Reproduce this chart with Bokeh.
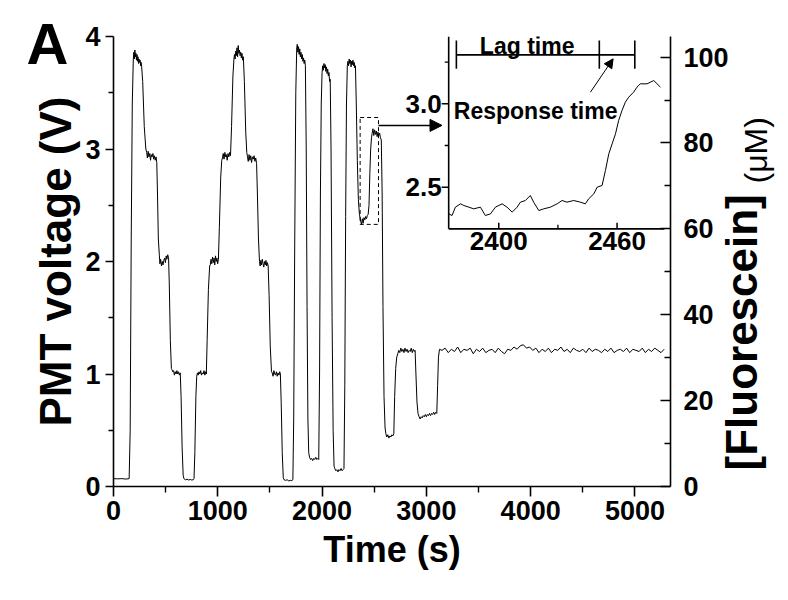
import numpy as np
from bokeh.plotting import figure
from bokeh.models import (Range1d, LinearAxis, FixedTicker, Label, LabelSet,
                          Arrow, NormalHead, ColumnDataSource)
from bokeh.core.properties import value
from bokeh.embed import file_html
from bokeh.resources import INLINE

FONT = "Liberation Sans"

# ---------------- data: main PMT trace (time s, voltage V) ----------------
time_s = [0, 40, 80, 120, 150,
          160, 170, 180, 190,
          195, 200, 205, 210, 215, 220, 225, 230, 235, 240, 245, 250, 255, 260, 265, 270,
          280, 295, 310,
          318, 325, 332, 340, 348, 355, 362, 370, 378, 385, 392, 400, 408, 415,
          422, 430, 440,
          445, 452, 460, 468, 475, 482, 490, 498, 505, 512, 520, 528,
          535, 545, 555,
          560, 568, 576, 584, 592, 600, 608, 616, 624, 632, 640,
          648, 658, 668,
          675, 690, 705, 720, 735, 750, 765, 772,
          780, 790, 798,
          805, 812, 820, 828, 836, 844, 852, 860, 868, 876, 884, 890,
          898, 910, 922,
          928, 935, 942, 950, 957, 964, 971, 978, 985, 992, 999, 1006,
          1015, 1028, 1038,
          1045, 1052, 1060, 1068, 1075, 1082, 1090, 1098, 1106, 1114, 1122,
          1132, 1145, 1155,
          1160, 1166, 1172, 1178, 1184, 1190, 1196, 1202, 1208, 1214, 1220, 1226, 1232, 1238, 1245,
          1255, 1268, 1278,
          1285, 1292, 1300, 1308, 1316, 1324, 1332, 1340, 1348, 1356, 1364, 1372,
          1380, 1390, 1400,
          1406, 1413, 1420, 1427, 1434, 1441, 1448, 1455, 1462, 1469, 1476, 1483,
          1492, 1503, 1515,
          1522, 1530, 1538, 1546, 1554, 1562, 1570, 1578, 1586, 1594, 1600,
          1608, 1618, 1628,
          1635, 1650, 1665, 1680, 1695, 1710, 1720,
          1728, 1738, 1748, 1757,
          1762, 1768, 1774, 1780, 1786, 1792, 1798, 1804, 1810, 1816, 1822, 1828, 1834, 1840,
          1848, 1856, 1864, 1872,
          1880, 1890, 1900, 1910, 1920, 1930, 1940, 1950, 1960, 1968,
          1976, 1984, 1992, 2000,
          2006, 2012, 2018, 2024, 2030, 2036, 2042, 2048, 2054, 2060, 2066, 2072, 2078,
          2086, 2096, 2106, 2115,
          2122, 2132, 2142, 2152, 2162, 2172, 2182, 2192, 2202, 2210,
          2218, 2226, 2234, 2242,
          2248, 2254, 2260, 2266, 2272, 2278, 2284, 2290, 2296, 2302, 2308, 2314, 2320,
          2328, 2338, 2348, 2358,
          2370, 2378, 2386, 2394, 2402, 2410, 2418, 2426, 2434, 2442, 2450,
          2458, 2466, 2474,
          2480, 2488, 2496, 2504, 2512, 2520, 2528, 2536, 2544, 2552, 2560, 2568,
          2576, 2584, 2594, 2604,
          2612, 2620, 2630, 2640, 2650, 2660, 2670, 2680, 2688,
          2696, 2706, 2716, 2726,
          2735, 2745, 2755, 2765, 2775, 2785, 2795, 2805, 2815, 2825, 2835, 2845, 2855, 2865, 2875, 2885, 2892,
          2900, 2910, 2920,
          2930, 2940, 2950, 2960, 2970, 2980, 2990, 3000, 3010, 3020, 3030, 3040, 3050, 3060, 3070, 3080, 3090, 3100,
          3108, 3116, 3126,
          3150, 3180, 3210, 3240, 3270, 3300, 3330, 3360, 3390, 3420,
          3450, 3480, 3510, 3540, 3570, 3600, 3630, 3660, 3690, 3720,
          3750, 3780, 3810, 3840, 3870, 3900, 3930, 3960, 3990, 4020,
          4050, 4080, 4110, 4140, 4170, 4200, 4230, 4260, 4290, 4320,
          4350, 4380, 4410, 4440, 4470, 4500, 4530, 4560, 4590, 4620,
          4650, 4680, 4710, 4740, 4770, 4800, 4830, 4860, 4890, 4920,
          4950, 4980, 5010, 5040, 5070, 5100, 5130, 5160, 5190, 5220,
          5250, 5280]

pmt_v = [0.07, 0.068, 0.07, 0.066, 0.07,
         0.5, 2.2, 3.4, 3.80,
         3.86, 3.80, 3.88, 3.82, 3.85, 3.79, 3.84, 3.78, 3.82, 3.76, 3.80, 3.77, 3.79, 3.74, 3.77, 3.73,
         3.6, 3.2, 3.0,
         2.97, 2.92, 2.98, 2.93, 2.96, 2.90, 2.95, 2.93, 2.96, 2.91, 2.94, 2.90, 2.93, 2.88,
         2.6, 2.2, 2.05,
         1.98, 2.02, 1.96, 2.00, 1.97, 2.01, 2.03, 1.99, 2.05, 2.02, 2.06, 2.03,
         1.8, 1.3, 1.05,
         1.04, 1.02, 1.03, 0.99, 1.02, 1.00, 1.03, 1.00, 1.02, 0.99, 1.01,
         0.8, 0.35, 0.10,
         0.07, 0.06, 0.065, 0.058, 0.062, 0.058, 0.06, 0.07,
         0.3, 0.8, 0.98,
         1.01, 0.99, 1.02, 1.00, 1.03, 0.99, 1.01, 1.00, 1.03, 0.99, 1.02, 1.00,
         1.3, 1.75, 1.96,
         1.97, 2.02, 1.98, 2.04, 1.99, 2.03, 1.97, 2.05, 2.00, 2.03, 1.98, 2.02,
         2.3, 2.75, 2.90,
         2.92, 2.96, 2.91, 2.97, 2.93, 2.95, 2.90, 2.96, 2.93, 2.97, 2.94,
         3.2, 3.65, 3.80,
         3.84, 3.80, 3.87, 3.83, 3.90, 3.82, 3.92, 3.85, 3.88, 3.83, 3.86, 3.81, 3.85, 3.79, 3.82,
         3.6, 3.15, 2.97,
         2.93, 2.89, 2.95, 2.90, 2.94, 2.88, 2.93, 2.91, 2.94, 2.89, 2.92, 2.87,
         2.6, 2.2, 2.0,
         1.96, 2.01, 1.97, 2.02, 1.98, 1.95, 2.00, 1.97, 2.01, 1.96, 1.99, 1.96,
         1.7, 1.25, 1.02,
         1.01, 0.98, 1.03, 1.00, 0.99, 1.02, 0.98, 1.01, 0.99, 1.02, 1.00,
         0.75, 0.3, 0.08,
         0.06, 0.055, 0.06, 0.05, 0.055, 0.052, 0.06,
         0.6, 2.2, 3.5, 3.90,
         3.93, 3.86, 3.91, 3.84, 3.89, 3.82, 3.86, 3.80, 3.84, 3.78, 3.81, 3.76, 3.79, 3.74,
         3.0, 1.6, 0.6, 0.30,
         0.26, 0.24, 0.25, 0.23, 0.25, 0.24, 0.26, 0.24, 0.25, 0.24,
         1.0, 2.6, 3.4, 3.68,
         3.74, 3.70, 3.76, 3.72, 3.75, 3.69, 3.73, 3.67, 3.71, 3.65, 3.68, 3.60, 3.62,
         3.0, 1.5, 0.5, 0.18,
         0.16, 0.14, 0.15, 0.13, 0.15, 0.14, 0.16, 0.14, 0.15, 0.16,
         0.9, 2.4, 3.4, 3.74,
         3.78, 3.74, 3.80, 3.76, 3.79, 3.73, 3.78, 3.75, 3.79, 3.74, 3.77, 3.72, 3.74,
         3.4, 2.9, 2.55, 2.42,
         2.36, 2.33, 2.38, 2.34, 2.39, 2.37, 2.40, 2.38, 2.41, 2.42, 2.50,
         2.78, 3.00, 3.10,
         3.14, 3.18, 3.12, 3.17, 3.13, 3.16, 3.11, 3.15, 3.12, 3.14, 3.10, 3.08,
         2.6, 1.6, 0.8, 0.52,
         0.47, 0.44, 0.46, 0.43, 0.45, 0.44, 0.46, 0.45, 0.47,
         0.8, 1.05, 1.15, 1.18,
         1.21, 1.19, 1.23, 1.20, 1.22, 1.19, 1.23, 1.20, 1.22, 1.19, 1.21, 1.20, 1.23, 1.19, 1.22, 1.20, 1.21,
         1.0, 0.75, 0.65,
         0.62, 0.60, 0.62, 0.61, 0.63, 0.62, 0.64, 0.62, 0.64, 0.63, 0.65, 0.63, 0.65, 0.64, 0.66, 0.64, 0.66, 0.65,
         0.9, 1.15, 1.22,
         1.21, 1.23, 1.19, 1.22, 1.20, 1.24, 1.19, 1.22, 1.21, 1.23,
         1.18, 1.22, 1.20, 1.23, 1.19, 1.21, 1.22, 1.19, 1.23, 1.20,
         1.18, 1.22, 1.21, 1.24, 1.22, 1.25, 1.26, 1.23, 1.24, 1.21,
         1.23, 1.19, 1.22, 1.20, 1.23, 1.19, 1.22, 1.21, 1.24, 1.20,
         1.22, 1.19, 1.23, 1.21, 1.20, 1.22, 1.19, 1.23, 1.20, 1.22,
         1.21, 1.19, 1.22, 1.20, 1.23, 1.19, 1.21, 1.22, 1.20, 1.23,
         1.19, 1.22, 1.21, 1.20, 1.23, 1.19, 1.22, 1.20, 1.23, 1.21,
         1.19, 1.22]
assert len(time_s) == len(pmt_v)

# ---------------- data: inset (zoom on 2375-2483 s) ----------------
inset_time = [2374.6, 2376.3, 2378.0, 2380.6, 2382.3, 2384.8, 2387.3, 2390.7, 2393.2, 2395.8,
              2398.3, 2401.7, 2404.2, 2406.8, 2409.3, 2411.0, 2413.5, 2416.0, 2417.7, 2420.3,
              2422.8, 2426.2, 2429.6, 2432.1, 2434.6, 2438.0, 2441.4, 2443.9, 2445.6, 2448.2,
              2449.9, 2452.4, 2454.1, 2455.8, 2457.5, 2459.2, 2460.8, 2462.5, 2464.2, 2465.9,
              2468.4, 2470.1, 2471.8, 2475.2, 2478.6, 2482.0]
inset_v = [2.34, 2.33, 2.38, 2.40, 2.39, 2.38, 2.37, 2.38, 2.33, 2.34,
           2.38, 2.40, 2.38, 2.35, 2.38, 2.41, 2.42, 2.45, 2.41, 2.36,
           2.37, 2.38, 2.40, 2.42, 2.41, 2.42, 2.41, 2.40, 2.43, 2.46,
           2.50, 2.51, 2.60, 2.70, 2.76, 2.82, 2.90, 2.96, 3.01, 3.04,
           3.07, 3.10, 3.12, 3.12, 3.14, 3.10]
assert len(inset_time) == len(inset_v)

# ticks
x_ticks = [0, 1000, 2000, 3000, 4000, 5000]
x_minor = [500, 1500, 2500, 3500, 4500]
y_ticks = [0, 1, 2, 3, 4]
y_minor = [0.5, 1.5, 2.5, 3.5]
conc_ticks = [0, 20, 40, 60, 80, 100]
conc_minor = [10, 30, 50, 70, 90]
conc_at_top = 104.8          # µM equivalent to 4 V

inset_x_ticks = [2400, 2460]
inset_x_labels = ["2400", "2460"]
inset_x_minor = [2430]
inset_y_ticks = [2.5, 3.0]
inset_y_labels = ["2.5", "3.0"]
inset_y_minor = [2.75, 3.25]
inset_t_lim = [2374.6, 2484.0]
inset_v_lim = [2.25, 3.404]

lag_marks = [2378.5, 2451.0, 2469.0]   # lag start, response start, response end
lag_level = 3.294
zoom_box_t = [2365, 2541]
zoom_box_v = [2.33, 3.28]

# positions (px above frame bottom) of the texts set outside the frame
letter_pos = 443
fluo_pos = 16
unit_pos = 303

# ---------------- figure ----------------
p = figure(frame_width=557, frame_height=450, x_range=Range1d(0, 5341), y_range=Range1d(0, 4),
           output_backend="svg", toolbar_location=None,
           min_border_left=113, min_border_right=105, min_border_top=36, min_border_bottom=98,
           x_axis_label="Time (s)", y_axis_label="PMT voltage (V)")
p.extra_y_ranges = {"conc": Range1d(0, conc_at_top), "iy": Range1d(0.704, 3.404),
                    "pos": Range1d(0, 450)}
p.extra_x_ranges = {"ix": Range1d(2204.6, 2487.1)}
p.grid.visible = False
p.outline_line_color = None
p.background_fill_color = "white"
p.border_fill_color = "white"


def style_axis(ax, tick_out, minor_out, tick_in=0, minor_in=0, standoff=5):
    ax.axis_line_width = 1.6
    ax.axis_line_color = "black"
    ax.major_tick_line_width = 1.6
    ax.minor_tick_line_width = 1.4
    ax.major_tick_line_color = "black"
    ax.minor_tick_line_color = "black"
    ax.major_tick_out = tick_out
    ax.major_tick_in = tick_in
    ax.minor_tick_out = minor_out
    ax.minor_tick_in = minor_in
    ax.major_label_text_font = FONT
    ax.major_label_text_font_style = "bold"
    ax.major_label_text_font_size = "27px"
    ax.major_label_text_color = "black"
    ax.major_label_standoff = standoff
    ax.axis_label_text_font = FONT
    ax.axis_label_text_font_style = "bold"
    ax.axis_label_text_color = "black"


def text_axis(ticks, overrides, size, style, standoff, orientation=None):
    ax = LinearAxis(y_range_name="pos", ticker=FixedTicker(ticks=ticks, minor_ticks=[]),
                    major_label_overrides=overrides)
    ax.axis_line_color = None
    ax.major_tick_line_color = None
    ax.minor_tick_line_color = None
    ax.major_tick_out = 0
    ax.major_tick_in = 0
    ax.minor_tick_out = 0
    ax.minor_tick_in = 0
    ax.major_label_text_font = FONT
    ax.major_label_text_font_style = style
    ax.major_label_text_font_size = size
    ax.major_label_text_color = "black"
    ax.major_label_standoff = standoff
    if orientation is not None:
        ax.major_label_orientation = orientation
    return ax


xa = p.xaxis[0]
xa.ticker = FixedTicker(ticks=x_ticks, minor_ticks=x_minor)
style_axis(xa, 10, 6, standoff=4)
xa.axis_label_text_font_size = "36px"
xa.axis_label_standoff = 6

ya = p.yaxis[0]
ya.ticker = FixedTicker(ticks=y_ticks, minor_ticks=y_minor)
style_axis(ya, 8, 5, standoff=5)
ya.axis_label_text_font_size = "44px"
ya.axis_label_standoff = 2

ra = LinearAxis(y_range_name="conc", ticker=FixedTicker(ticks=conc_ticks, minor_ticks=conc_minor))
style_axis(ra, 0, 0, tick_in=10, minor_in=6, standoff=13)
p.add_layout(ra, "right")

# panel letter and right-hand axis title, set as labels of bare axes
p.add_layout(text_axis([letter_pos], {letter_pos: "A"}, "58px", "bold", -40), "left")
p.add_layout(text_axis([fluo_pos], {fluo_pos: "[Fluorescein]"}, "44px", "bold", 10, np.pi / 2), "right")
p.add_layout(text_axis([unit_pos], {unit_pos: "(\u03bcM)"}, "32px", "normal", -38, np.pi / 2), "right")

# main trace
p.line(time_s, pmt_v, line_color="black", line_width=1)

# dashed zoom box + arrow to inset
p.quad(left=[zoom_box_t[0]], right=[zoom_box_t[1]], bottom=[zoom_box_v[0]], top=[zoom_box_v[1]],
       fill_color=None, line_color="black", line_width=1, line_dash="4 3")
p.add_layout(Arrow(end=NormalHead(size=12, fill_color="black", line_color="black"),
                   x_start=zoom_box_t[1], y_start=3.21, x_end=3150, y_end=3.21,
                   line_color="black", line_width=1.5))

# ---------------- inset ----------------
IR = dict(x_range_name="ix", y_range_name="iy")
p.line(inset_time, inset_v, line_color="black", line_width=1, **IR)
p.segment(x0=[inset_t_lim[0], inset_t_lim[0]], y0=[inset_v_lim[0], inset_v_lim[0]],
          x1=[inset_t_lim[0], inset_t_lim[1]], y1=[inset_v_lim[1], inset_v_lim[0]],
          line_color="black", line_width=1.6, **IR)
p.ray(x=[inset_t_lim[0]] * len(inset_y_ticks), y=inset_y_ticks, length=7, length_units="screen",
      angle=np.pi, line_color="black", line_width=1.5, **IR)
p.ray(x=[inset_t_lim[0]] * len(inset_y_minor), y=inset_y_minor, length=4, length_units="screen",
      angle=np.pi, line_color="black", line_width=1.3, **IR)
p.ray(x=inset_x_ticks, y=[inset_v_lim[0]] * len(inset_x_ticks), length=6, length_units="screen",
      angle=np.pi / 2, line_color="black", line_width=1.5, **IR)
p.ray(x=inset_x_minor, y=[inset_v_lim[0]] * len(inset_x_minor), length=4, length_units="screen",
      angle=np.pi / 2, line_color="black", line_width=1.3, **IR)

ix_src = ColumnDataSource(dict(x=inset_x_ticks, y=[inset_v_lim[0]] * len(inset_x_ticks), text=inset_x_labels))
p.add_layout(LabelSet(x="x", y="y", text="text", source=ix_src, text_align="center", text_baseline="top",
                      y_offset=-3, text_font=value(FONT), text_font_style="bold", text_font_size="26px",
                      text_color="black", **IR))
iy_src = ColumnDataSource(dict(x=[inset_t_lim[0]] * len(inset_y_ticks), y=inset_y_ticks, text=inset_y_labels))
p.add_layout(LabelSet(x="x", y="y", text="text", source=iy_src, text_align="right", text_baseline="middle",
                      x_offset=-7, text_font=value(FONT), text_font_style="bold", text_font_size="26px",
                      text_color="black", **IR))

p.segment(x0=[lag_marks[0]], y0=[lag_level], x1=[lag_marks[-1]], y1=[lag_level],
          line_color="black", line_width=1.6, **IR)
p.segment(x0=lag_marks, y0=[3.21] * 3, x1=lag_marks, y1=[3.38] * 3,
          line_color="black", line_width=1.6, **IR)
p.add_layout(Label(x=2414.4, y=3.345, text="Lag time", text_align="center", text_baseline="alphabetic",
                   text_font=FONT, text_font_style="bold", text_font_size="23px", text_color="black", **IR))
p.add_layout(Label(x=2377.2, y=2.96, text="Response time", text_align="left", text_baseline="alphabetic",
                   text_font=FONT, text_font_style="bold", text_font_size="23px", text_color="black", **IR))
p.add_layout(Arrow(end=NormalHead(size=9, fill_color="black", line_color="black"),
                   x_start=2446.5, y_start=3.07, x_end=2458.0, y_end=3.27,
                   line_color="black", line_width=1, **IR))

open("out.html", "w").write(file_html(p, INLINE))
